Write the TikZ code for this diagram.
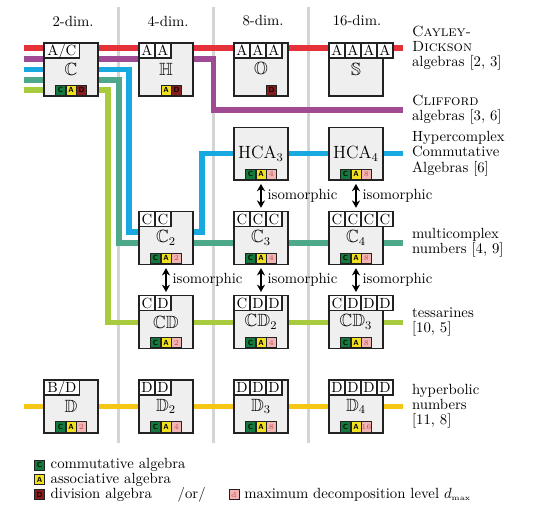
\documentclass[tikz,border=0pt]{standalone}
\usepackage{amssymb}
\usetikzlibrary{arrows.meta,positioning,calc,backgrounds}

\definecolor{cdred}{HTML}{E5323A}
\definecolor{clpurple}{HTML}{A04A94}
\definecolor{hcablue}{HTML}{19A9E1}
\definecolor{mcteal}{HTML}{4EA98A}
\definecolor{tsgreen}{HTML}{A7CB3C}
\definecolor{hyyellow}{HTML}{F5C614}
\definecolor{boxgray}{HTML}{EFEFEF}
\definecolor{divgray}{HTML}{D4D4D4}
\definecolor{boxframe}{HTML}{222222}
\definecolor{cgreen}{HTML}{127A3C}
\definecolor{ayellow}{HTML}{F0E020}
\definecolor{dred}{HTML}{8A1C1C}
\definecolor{npink}{HTML}{F2B5B5}
\definecolor{ntext}{HTML}{C4504E}

\begin{document}
\begin{tikzpicture}[
  x=0.678pt, y=-0.678pt,
  alg/.style={draw=boxframe, line width=1pt, fill=boxgray, minimum width=36.6pt, minimum height=35.9pt, inner sep=0pt, outer sep=0pt, font=\large},
  cell/.style={draw=boxframe, line width=0.9pt, fill=white, anchor=north west, minimum width=10.85pt, minimum height=10.2pt, inner sep=0pt, outer sep=0pt, text height=6.8pt, text depth=0pt},
  badge/.style={draw=boxframe, line width=0.5pt, minimum size=6.8pt, inner sep=0pt, outer sep=0pt, font=\tiny\sffamily\bfseries},
  cbadge/.style={badge, fill=cgreen, text=black},
  abadge/.style={badge, fill=ayellow, text=black},
  dbadge/.style={badge, fill=dred, text=black},
  nbadge/.style={badge, fill=npink, text=ntext, font=\tiny},
  bus/.style={line width=3.5pt},
  cdline/.style={bus, draw=cdred},
  clline/.style={bus, draw=clpurple},
  hcaline/.style={bus, draw=hcablue},
  mcline/.style={bus, draw=mcteal},
  tsline/.style={bus, draw=tsgreen},
  hyline/.style={bus, draw=hyyellow},
  divider/.style={draw=divgray, line width=2pt},
  iso/.style={<->, line width=1pt, shorten <=2.5pt, shorten >=2.5pt},
  isolbl/.style={right=4pt, inner sep=0pt},
  lbl/.style={align=left, inner sep=0pt, font=\fontsize{10}{10.2}\selectfont},
  >={Stealth[length=5pt, width=5.5pt]}, node distance=21.2pt and 27.8pt]
\useasboundingbox (0,0) rectangle (533,514);

% algebra boxes
\node[alg] (C) at (71,69.5) {$\mathbb{C}$};
\node[alg, right=of C] (H) {$\mathbb{H}$};
\node[alg, right=of H] (O) {$\mathbb{O}$};
\node[alg, right=of O] (S) {$\mathbb{S}$};
\node[alg, below=of O] (HCA3) {HCA$_3$};
\node[alg, below=of S] (HCA4) {HCA$_4$};
\node[alg, below=of HCA3] (C3) {$\mathbb{C}_3$};
\node[alg, below=of HCA4] (C4) {$\mathbb{C}_4$};
\node[alg, left=of C3] (C2) {$\mathbb{C}_2$};
\node[alg, below=of C2] (CD) {$\mathbb{CD}$};
\node[alg, below=of C3] (CD2) {$\mathbb{CD}_2$};
\node[alg, below=of C4] (CD3) {$\mathbb{CD}_3$};
\node[alg, below=of CD] (D2) {$\mathbb{D}_2$};
\node[alg, left=of D2] (D) {$\mathbb{D}$};
\node[alg, below=of CD2] (D3) {$\mathbb{D}_3$};
\node[alg, below=of CD3] (D4) {$\mathbb{D}_4$};

% construction cells
\node[cell, minimum width=24.2pt] (C-1) at (C.north west) {A/C};
\node[cell, minimum width=24.2pt] (D-1) at (D.north west) {B/D};
\foreach \b/\l in {H/{A,A}, O/{A,A,A}, S/{A,A,A,A}, C2/{C,C}, C3/{C,C,C}, C4/{C,C,C,C},
    CD/{C,D}, CD2/{C,D,D}, CD3/{C,D,D,D}, D2/{D,D}, D3/{D,D,D}, D4/{D,D,D,D}}
  \foreach \t [count=\i] in \l
    \node[cell] (\b-\i) at ($(\b.north west)+({16*(\i-1)},0)$) {\t};

% property badges
\node[cbadge] (C-c) at ($(C.south)+(-10.5,-6)$) {C};
\node[abadge] (C-a) at ($(C.south)+(0,-6)$) {A};
\node[dbadge] (C-d) at ($(C.south)+(10.5,-6)$) {D};
\node[abadge] (H-a) at ($(H.south)+(0,-6)$) {A};
\node[dbadge] (H-d) at ($(H.south)+(10.5,-6)$) {D};
\node[dbadge] (O-d) at ($(O.south)+(10.5,-6)$) {D};
\foreach \b/\n in {HCA3/4, HCA4/8, C2/2, C3/4, C4/8, CD/2, CD2/4, CD3/8, D/2, D2/4, D3/8, D4/16} {
  \node[cbadge] (\b-c) at ($(\b.south)+(-10.5,-6)$) {C};
  \node[abadge] (\b-a) at ($(\b.south)+(0,-6)$) {A};
  \node[nbadge] (\b-n) at ($(\b.south)+(10.5,-6)$) {\n};
}

% line ends
\coordinate (cd-l) at ($(C.north west)+(-20,5)$);
\coordinate (cd-r) at ($(S.north east)+(20,5)$);
\coordinate (cl-l) at ($(C.north west)+(-20,16)$);
\coordinate (cl-r) at ($(S.south east)+(20,14)$);
\coordinate (hca-l) at ($(C.west)+(-20,0)$);
\coordinate (hca-r) at ($(HCA4.east)+(20,0)$);
\coordinate (mc-l) at ($(C.west)+(-20,10.5)$);
\coordinate (mc-r) at ($(C4.east)+(20,5)$);
\coordinate (ts-l) at ($(C.west)+(-20,20.5)$);
\coordinate (ts-r) at ($(CD3.east)+(20,0)$);
\coordinate (hy-l) at ($(D.west)+(-20,0)$);
\coordinate (hy-r) at ($(D4.east)+(20,0)$);
\coordinate (div1) at ($(C.east)!.5!(H.west)$);
\coordinate (div2) at ($(H.east)!.5!(O.west)$);
\coordinate (div3) at ($(O.east)!.5!(S.west)$);
\coordinate (top) at (0,7);
\coordinate (bot) at (0,443);

\begin{scope}[on background layer]
\draw[divider] (div1 |- top) -- (div1 |- bot);
\draw[divider] (div2 |- top) -- (div2 |- bot);
\draw[divider] (div3 |- top) -- (div3 |- bot);
\draw[cdline] (cd-l) -- (cd-r);
\draw[clline] (cl-l) -| (div2 |- cl-r) -- (cl-r);
\draw[hcaline] (hca-l) -| ($(C2.west)+(-10,-6)$) -- ($(C2.east)+(9,-6)$) |- (HCA3) -- (hca-r);
\draw[mcline] (mc-l) -| ($(C2.west)+(-20,5)$) -- (mc-r);
\draw[tsline] (ts-l) -| ($(CD.west)+(-31,0)$) -- (ts-r);
\draw[hyline] (hy-l) -- (hy-r);
\end{scope}

\draw[iso] (HCA3) -- node[isolbl] {isomorphic} (C3);
\draw[iso] (HCA4) -- node[isolbl] {isomorphic} (C4);
\draw[iso] (C2) -- node[isolbl] {isomorphic} (CD);
\draw[iso] (C3) -- node[isolbl] {isomorphic} (CD2);
\draw[iso] (C4) -- node[isolbl] {isomorphic} (CD3);

% column heads
\node (hd2) at (73,21) {2-dim.};
\node (hd4) at (168,21) {4-dim.};
\node (hd8) at (263,21) {8-dim.};
\node (hd16) at (357,21) {16-dim.};

% family names
\node[lbl, right=6pt of cd-r] (cd-txt) {\textsc{Cayley-}\\\textsc{Dickson}\\algebras [2, 3]};
\node[lbl, right=6pt of cl-r] (cl-txt) {\textsc{Clifford}\\algebras [3, 6]};
\node[lbl, right=6pt of hca-r] (hca-txt) {Hypercomplex\\Commutative\\Algebras [6]};
\node[lbl, right=6pt of mc-r] (mc-txt) {multicomplex\\numbers [4, 9]};
\node[lbl, right=6pt of ts-r] (ts-txt) {tessarines\\{[10, 5]}};
\node[lbl, right=6pt of hy-r] (hy-txt) {hyperbolic\\numbers\\{[11, 8]}};

% legend
\node[cbadge] (lg-c) at (39.5,465) {C};
\node[abadge, below=3.2pt of lg-c] (lg-a) {A};
\node[dbadge, below=3.2pt of lg-a] (lg-d) {D};
\node[lbl, right=4pt of lg-c] (lg-c-txt) {commutative algebra};
\node[lbl, right=4pt of lg-a] (lg-a-txt) {associative algebra};
\node[lbl, right=4pt of lg-d] (lg-d-txt) {division algebra};
\node[lbl, right=17pt of lg-d-txt] (lg-or) {/or/};
\node[nbadge, right=15.6pt of lg-or] (lg-n) {d};
\node[lbl, right=3.5pt of lg-n] (lg-n-txt) {maximum decomposition level $d_{\scriptscriptstyle\max}$};
\end{tikzpicture}
\end{document}
